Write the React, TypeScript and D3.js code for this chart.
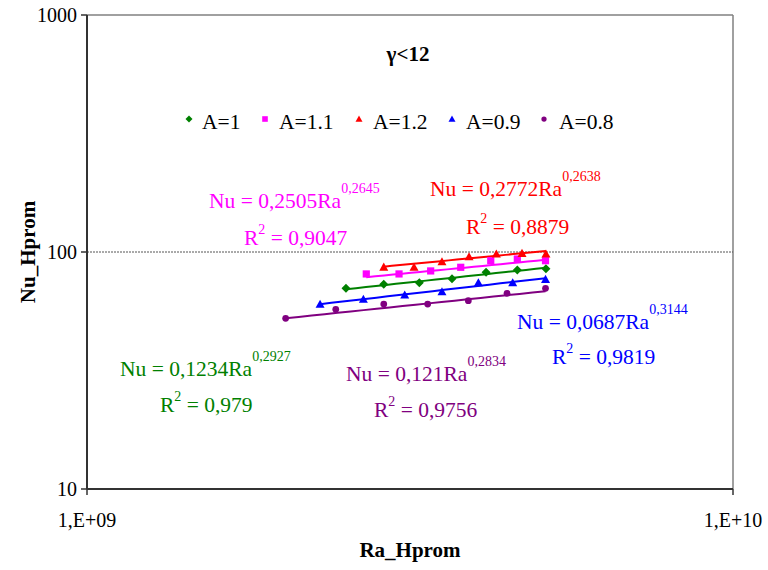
import React from "react";
import * as d3 from "d3";

// Rayleigh numbers (Ra_Hprom) and Nusselt numbers (Nu_Hprom) per aspect ratio A
const raA1 = [2.517e9, 2.88e9, 3.269e9, 3.673e9, 4.147e9, 4.636e9, 5.134e9];
const nuA1 = [70.3, 73.1, 74.2, 77.1, 82.1, 84.0, 85.0];

const raA11 = [2.706e9, 3.041e9, 3.404e9, 3.789e9, 4.217e9, 4.636e9, 5.126e9];
const nuA11 = [80.8, 80.8, 83.2, 86.2, 91.9, 93.4, 91.9];

const raA12 = [2.88e9, 3.208e9, 3.544e9, 3.903e9, 4.302e9, 4.714e9, 5.134e9];
const nuA12 = [86.4, 86.3, 91.0, 95.5, 98.1, 98.7, 98.1];

const raA09 = [2.295e9, 2.678e9, 3.103e9, 3.544e9, 4.035e9, 4.56e9, 5.126e9];
const nuA09 = [60.2, 63.2, 65.9, 68.0, 74.2, 74.2, 76.7];

const raA08 = [2.03e9, 2.427e9, 2.88e9, 3.368e9, 3.893e9, 4.469e9, 5.126e9];
const nuA08 = [52.5, 57.3, 60.3, 60.3, 62.3, 66.9, 70.3];

// Legend / series labels
const seriesNames = ["A=1", "A=1.1", "A=1.2", "A=0.9", "A=0.8"];
const seriesColors = ["#008000", "#FF00FF", "#FF0000", "#0000FF", "#800080"];
const seriesShapes = ["diamond", "square", "triangle", "triangle", "circle"];

// Power-law fits Nu = c * Ra^e
const fitCoef = [0.1234, 0.2505, 0.2772, 0.0687, 0.121];
const fitExp = [0.2927, 0.2645, 0.2638, 0.3144, 0.2834];
const fitCoefText = ["0,1234", "0,2505", "0,2772", "0,0687", "0,121"];
const fitExpText = ["0,2927", "0,2645", "0,2638", "0,3144", "0,2834"];
const fitR2Text = ["0,979", "0,9047", "0,8879", "0,9819", "0,9756"];

// Axis ticks
const xTicks = [1e9, 1e10];
const xTickLabels = ["1,E+09", "1,E+10"];
const yTicks = [10, 100, 1000];
const yTickLabels = ["10", "100", "1000"];

const raSeries = [raA1, raA11, raA12, raA09, raA08];
const nuSeries = [nuA1, nuA11, nuA12, nuA09, nuA08];

// Label placement for each fit equation: [x of "Nu", baseline, x of "R", baseline]
const eqPos = [
  [120, 376, 160, 412],
  [209, 208, 244, 245],
  [430, 196, 466, 234],
  [517, 329, 552, 364],
  [346, 381, 374, 417],
];

const FONT = "Liberation Serif, Times New Roman, Times, serif";

function markerPath(shape: string, s: number): string {
  switch (shape) {
    case "diamond":
      return `M0,${-s}L${s},0L0,${s}L${-s},0Z`;
    case "square":
      return `M${-s * 0.8},${-s * 0.8}H${s * 0.8}V${s * 0.8}H${-s * 0.8}Z`;
    case "triangle":
      return `M0,${-s}L${s},${s * 0.8}L${-s},${s * 0.8}Z`;
    default:
      return d3.symbol().type(d3.symbolCircle).size(Math.PI * (s * 0.75) ** 2)() || "";
  }
}

export default function App() {
  const W = 768;
  const H = 570;
  const left = 87;
  const right = 733;
  const top = 15;
  const bottom = 489;

  const x = d3.scaleLog().domain([1e9, 1e10]).range([left, right]);
  const y = d3.scaleLog().domain([10, 1000]).range([bottom, top]);

  const legendItems = [
    { mx: 189, tx: 202 },
    { mx: 265, tx: 279 },
    { mx: 359, tx: 373 },
    { mx: 452, tx: 466 },
    { mx: 544, tx: 559 },
  ];

  const txt = { fontFamily: FONT };

  return (
    <svg
      width={W}
      height={H}
      style={{ position: "absolute", left: 0, top: 0, background: "#fff", fontFamily: FONT }}
    >
      <rect x={0} y={0} width={W} height={H} fill="#fff" />
      {/* plot area frame */}
      <line x1={left} x2={right} y1={top} y2={top} stroke="#808080" strokeWidth={1.5} />
      <line x1={right} x2={right} y1={top} y2={bottom} stroke="#808080" strokeWidth={1.5} />
      {/* gridline at 100 */}
      <line
        x1={left}
        x2={right}
        y1={y(100)}
        y2={y(100)}
        stroke="#555"
        strokeWidth={1}
        strokeDasharray="2,1"
      />
      {/* axes */}
      <line x1={left} x2={left} y1={top} y2={bottom} stroke="#333" strokeWidth={2} />
      <line x1={left} x2={right} y1={bottom} y2={bottom} stroke="#333" strokeWidth={2} />
      {yTicks.map((t, i) => (
        <g key={"yt" + i}>
          <line x1={left - 6} x2={left} y1={y(t)} y2={y(t)} stroke="#333" strokeWidth={1.5} />
          <text x={left - 10} y={y(t) + 7} fontSize={20} textAnchor="end" fill="#000" style={txt}>
            {yTickLabels[i]}
          </text>
        </g>
      ))}
      {xTicks.map((t, i) => (
        <g key={"xt" + i}>
          <line x1={x(t)} x2={x(t)} y1={bottom} y2={bottom + 6} stroke="#333" strokeWidth={1.5} />
          <text x={x(t)} y={bottom + 38} fontSize={20} textAnchor="middle" fill="#000" style={txt}>
            {xTickLabels[i]}
          </text>
        </g>
      ))}
      <text x={410} y={557} fontSize={21} fontWeight="bold" textAnchor="middle" style={txt}>
        Ra_Hprom
      </text>
      <text
        transform={`translate(35,252) rotate(-90)`}
        fontSize={21}
        fontWeight="bold"
        textAnchor="middle"
        style={txt}
      >
        Nu_Hprom
      </text>
      <text x={408} y={61} fontSize={21} fontWeight="bold" textAnchor="middle" style={txt}>
        γ&lt;12
      </text>

      {/* fitted power-law trendlines */}
      {raSeries.map((ra, i) => {
        const r0 = d3.min(ra) as number;
        const r1 = d3.max(ra) as number;
        const pts = d3.range(0, 21).map((k) => r0 * Math.pow(r1 / r0, k / 20));
        const path = d3
          .line<number>()
          .x((r) => x(r))
          .y((r) => y(fitCoef[i] * Math.pow(r, fitExp[i])))(pts);
        return (
          <path key={"fit" + i} d={path || ""} fill="none" stroke={seriesColors[i]} strokeWidth={2} />
        );
      })}

      {/* data points */}
      {raSeries.map((ra, i) =>
        ra.map((r, j) => (
          <path
            key={`m${i}-${j}`}
            d={markerPath(seriesShapes[i], 4.5)}
            transform={`translate(${x(r)},${y(nuSeries[i][j])})`}
            fill={seriesColors[i]}
          />
        ))
      )}

      {/* legend */}
      {legendItems.map((it, i) => (
        <g key={"lg" + i}>
          <path
            d={markerPath(seriesShapes[i], 3.5)}
            transform={`translate(${it.mx},119)`}
            fill={seriesColors[i]}
          />
          <text x={it.tx} y={129} fontSize={21.5} fill="#000" style={txt}>
            {seriesNames[i]}
          </text>
        </g>
      ))}

      {/* fit equations */}
      {eqPos.map((p, i) => (
        <g key={"eq" + i} fill={seriesColors[i]}>
          <text x={p[0]} y={p[1]} fontSize={21.5} style={txt}>
            {`Nu = ${fitCoefText[i]}Ra`}
            <tspan fontSize={14} dy={-15}>
              {fitExpText[i]}
            </tspan>
          </text>
          <text x={p[2]} y={p[3]} fontSize={21.5} style={txt}>
            R
            <tspan fontSize={14} dy={-11}>
              2
            </tspan>
            <tspan dy={11}>{` = ${fitR2Text[i]}`}</tspan>
          </text>
        </g>
      ))}
    </svg>
  );
}
